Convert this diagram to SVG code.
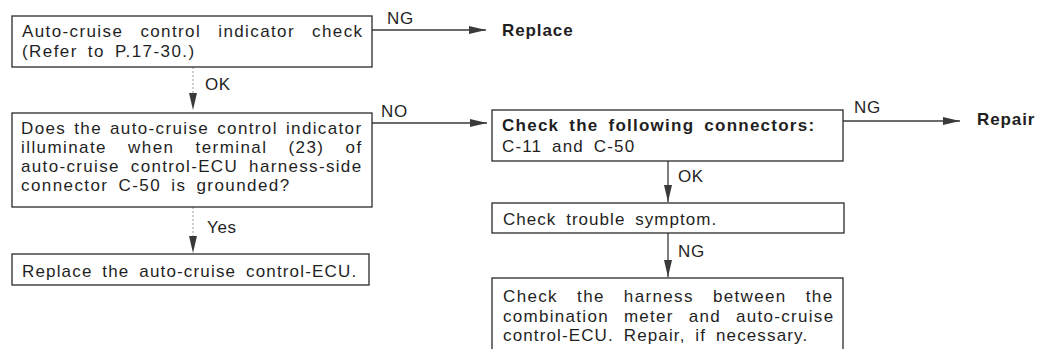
<svg xmlns="http://www.w3.org/2000/svg" width="1039" height="349" viewBox="0 0 1039 349">
  <style>
    .box { fill: #ffffff; stroke: #2a2a2a; stroke-width: 1.3; }
    .t { font-family: "Liberation Sans", Arial, sans-serif; font-size: 17px; fill: #1f1f1f; letter-spacing: 0.9px; word-spacing: 4px; }
    .b { font-weight: bold; }
    .lbl { font-family: "Liberation Sans", Arial, sans-serif; font-size: 17px; fill: #1f1f1f; letter-spacing: 0.6px; }
    .line { fill: none; stroke: #3a3a3a; stroke-width: 1.3; }
    .faint { fill: none; stroke: #9a9a9a; stroke-width: 1; stroke-dasharray: 2 2; }
  </style>
  <defs>
    <marker id="arrow" markerUnits="userSpaceOnUse" markerWidth="18" markerHeight="10" refX="17" refY="5" orient="auto">
      <path d="M0,1 L17,5 L0,9 Z" fill="#3a3a3a"/>
    </marker>
  </defs>
  <rect width="1039" height="349" fill="#ffffff"/>

  <!-- connectors -->
  <g id="connectors">
    <line class="line" x1="372" y1="30" x2="486" y2="30" marker-end="url(#arrow)"/>
    <text class="lbl" x="387" y="24">NG</text>

    <line class="faint" x1="193" y1="67" x2="193" y2="96"/>
    <line class="line" x1="193" y1="94" x2="193" y2="110" stroke-opacity="0" marker-end="url(#arrow)"/>
    <text class="lbl" x="205" y="90">OK</text>

    <line class="faint" x1="193" y1="207" x2="193" y2="238"/>
    <line class="line" x1="193" y1="236" x2="193" y2="253" stroke-opacity="0" marker-end="url(#arrow)"/>
    <text class="lbl" x="207" y="233">Yes</text>

    <line class="line" x1="372" y1="123" x2="487" y2="123" marker-end="url(#arrow)"/>
    <text class="lbl" x="381" y="117">NO</text>

    <line class="line" x1="843" y1="121" x2="960" y2="121" marker-end="url(#arrow)"/>
    <text class="lbl" x="854" y="113">NG</text>

    <line class="line" x1="668" y1="161" x2="668" y2="202" marker-end="url(#arrow)"/>
    <text class="lbl" x="678" y="182">OK</text>

    <line class="line" x1="668" y1="233" x2="668" y2="277" marker-end="url(#arrow)"/>
    <text class="lbl" x="678" y="257">NG</text>
  </g>

  <!-- indicator check -->
  <g id="indicator-check">
    <rect class="box" x="12" y="16" width="360" height="51"/>
    <text class="t" x="22" y="37" textLength="341" lengthAdjust="spacing" style="word-spacing:11px">Auto-cruise control indicator check</text>
    <text class="t" x="22" y="57" textLength="173" lengthAdjust="spacing">(Refer to P.17-30.)</text>
  </g>

  <g id="replace-result">
    <text class="t b" x="502" y="36">Replace</text>
  </g>

  <!-- grounding question -->
  <g id="ground-question">
    <rect class="box" x="12" y="113" width="360" height="94"/>
    <text class="t" x="21" y="134" textLength="341" lengthAdjust="spacing" style="word-spacing:2px">Does the auto-cruise control indicator</text>
    <text class="t" x="21" y="153" textLength="341" lengthAdjust="spacing" style="word-spacing:15px">illuminate when terminal (23) of</text>
    <text class="t" x="21" y="172" textLength="341" lengthAdjust="spacing" style="word-spacing:5px">auto-cruise control-ECU harness-side</text>
    <text class="t" x="21" y="191" textLength="269" lengthAdjust="spacing">connector C-50 is grounded?</text>
  </g>

  <!-- replace ECU -->
  <g id="replace-ecu">
    <rect class="box" x="12" y="254" width="357" height="31"/>
    <text class="t" x="22" y="277" textLength="335" lengthAdjust="spacing">Replace the auto-cruise control-ECU.</text>
  </g>

  <!-- connector check -->
  <g id="connector-check">
    <rect class="box" x="492" y="110" width="351" height="51"/>
    <text class="t b" x="502" y="131" textLength="313" lengthAdjust="spacing">Check the following connectors:</text>
    <text class="t" x="502" y="152" textLength="133" lengthAdjust="spacing">C-11 and C-50</text>
  </g>

  <g id="repair-result">
    <text class="t b" x="977" y="125">Repair</text>
  </g>

  <!-- trouble symptom -->
  <g id="trouble-symptom">
    <rect class="box" x="492" y="203" width="352" height="30"/>
    <text class="t" x="503" y="225" textLength="214" lengthAdjust="spacing">Check trouble symptom.</text>
  </g>

  <!-- harness check -->
  <g id="harness-check">
    <rect class="box" x="492" y="278" width="351" height="80"/>
    <text class="t" x="503" y="302" textLength="330" lengthAdjust="spacing" style="word-spacing:13px">Check the harness between the</text>
    <text class="t" x="503" y="322" textLength="331" lengthAdjust="spacing" style="word-spacing:9px">combination meter and auto-cruise</text>
    <text class="t" x="503" y="341" textLength="305" lengthAdjust="spacing">control-ECU. Repair, if necessary.</text>
  </g>
</svg>
